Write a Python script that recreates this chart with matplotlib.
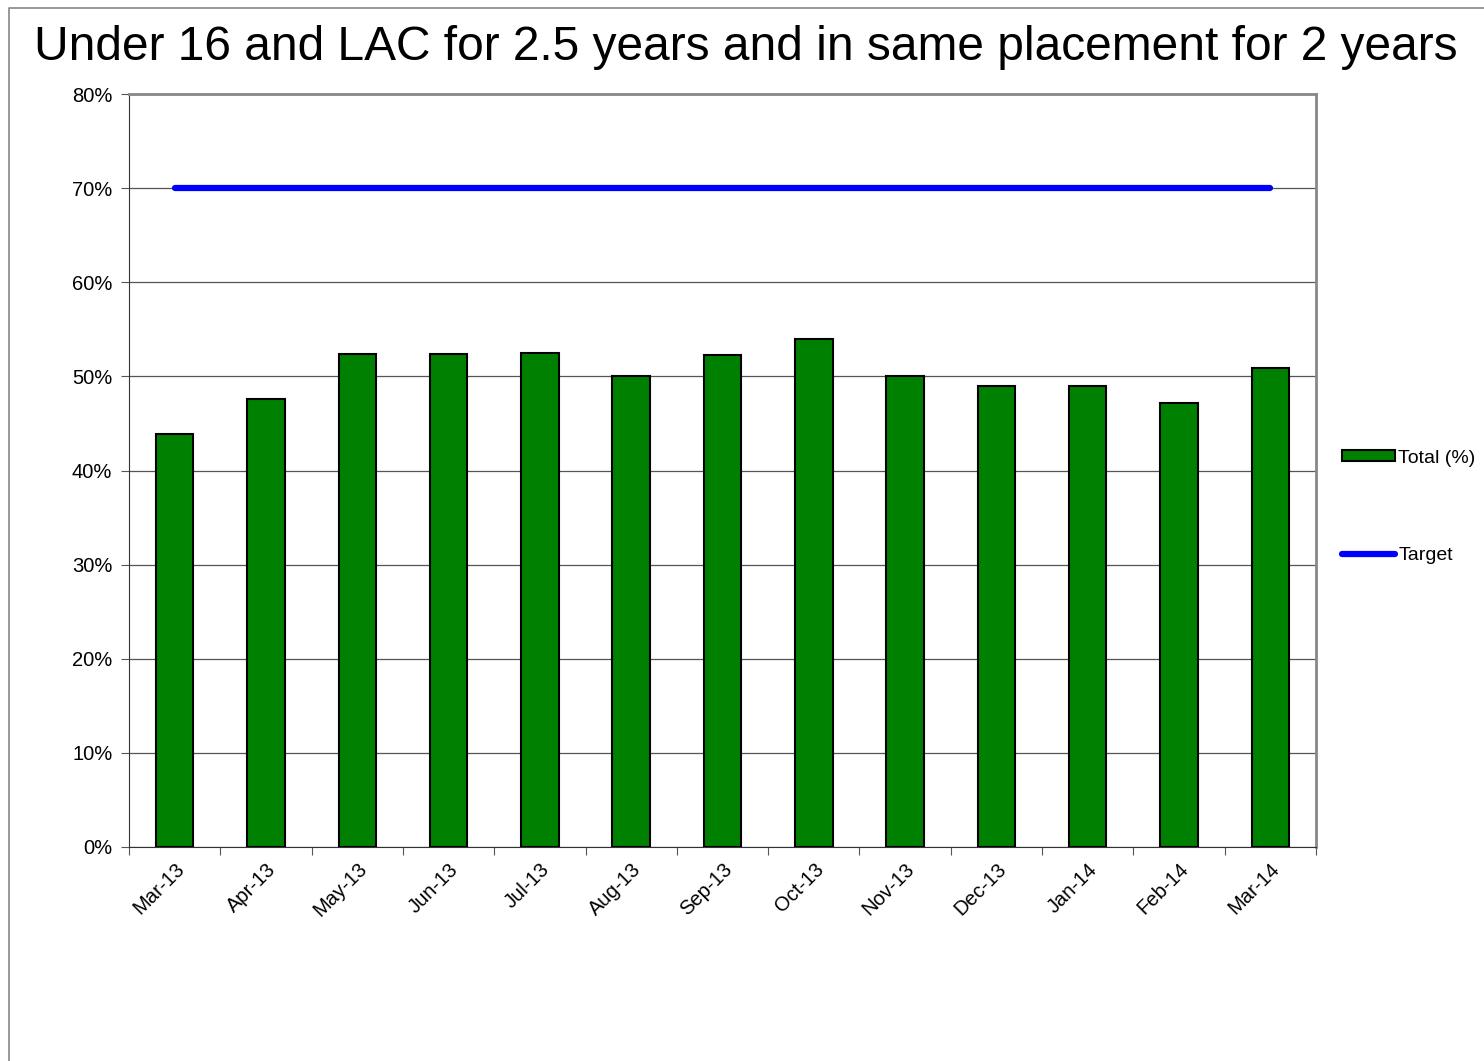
import matplotlib.pyplot as plt
from matplotlib.ticker import FixedLocator, PercentFormatter
from matplotlib.lines import Line2D
import numpy as np

plt.rcParams['font.family'] = ['Liberation Sans', 'DejaVu Sans']

months = ['Mar-13', 'Apr-13', 'May-13', 'Jun-13', 'Jul-13', 'Aug-13', 'Sep-13',
          'Oct-13', 'Nov-13', 'Dec-13', 'Jan-14', 'Feb-14', 'Mar-14']
total = [43.9, 47.6, 52.4, 52.4, 52.5, 50.0, 52.3, 54.0, 50.0, 49.0, 49.0, 47.2, 50.9]
target = [70] * len(months)

fig = plt.figure(figsize=(14.84, 10.61), dpi=100)
# outer chart frame (only left and top edges are visible)
fig.lines.append(Line2D([9 / 1484, 9 / 1484, 1.0], [0, 1 - 8 / 1061, 1 - 8 / 1061],
                        transform=fig.transFigure, color='#888888', linewidth=1.2))
ax = fig.add_axes([129 / 1484, 1 - 847 / 1061, (1316 - 129) / 1484, (847 - 94) / 1061])

x = np.arange(len(months))
bars = ax.bar(x, total, width=0.41, color='#008000', edgecolor='black', linewidth=1.5,
              label='Total (%)', zorder=3)
line, = ax.plot(x, target, color='#0000ff', linewidth=4.5, solid_capstyle='round',
                label='Target', zorder=4)

ax.set_xlim(-0.5, len(months) - 0.5)
ax.set_ylim(0, 80)
ax.set_yticks(np.arange(0, 81, 10))
ax.yaxis.set_major_formatter(PercentFormatter(decimals=0))
ax.yaxis.grid(True, color='#555555', linewidth=0.9, zorder=0)

ax.xaxis.set_major_locator(FixedLocator(np.arange(-0.5, len(months), 1.0)))
ax.xaxis.set_major_formatter(plt.NullFormatter())
ax.xaxis.set_minor_locator(FixedLocator(x))
ax.set_xticklabels(months, minor=True, rotation=45, ha='right', va='top',
                   rotation_mode='anchor', fontsize=14.5)
ax.tick_params(axis='x', which='minor', length=0, pad=9)
ax.tick_params(axis='x', which='major', length=6, color='#555555')
ax.tick_params(axis='y', labelsize=14.5, length=6, color='#555555', pad=6)

for side in ['top', 'right']:
    ax.spines[side].set_color('#888888')
    ax.spines[side].set_linewidth(2)
ax.spines['left'].set_color('#333333')
ax.spines['bottom'].set_color('#333333')

fig.text(746 / 1484, 1 - 47 / 1061, 'Under 16 and LAC for 2.5 years and in same placement for 2 years',
         ha='center', va='center', fontsize=34.5)

fig.legend([bars, line], ['Total (%)', 'Target'], loc='center left',
           bbox_to_anchor=(1342 / 1484, 1 - 507 / 1061),
           frameon=False, fontsize=14, labelspacing=4.15, handlelength=2.7,
           handletextpad=0.2, handleheight=0.5, borderpad=0, borderaxespad=0)

fig.savefig('out.png', dpi=100)
